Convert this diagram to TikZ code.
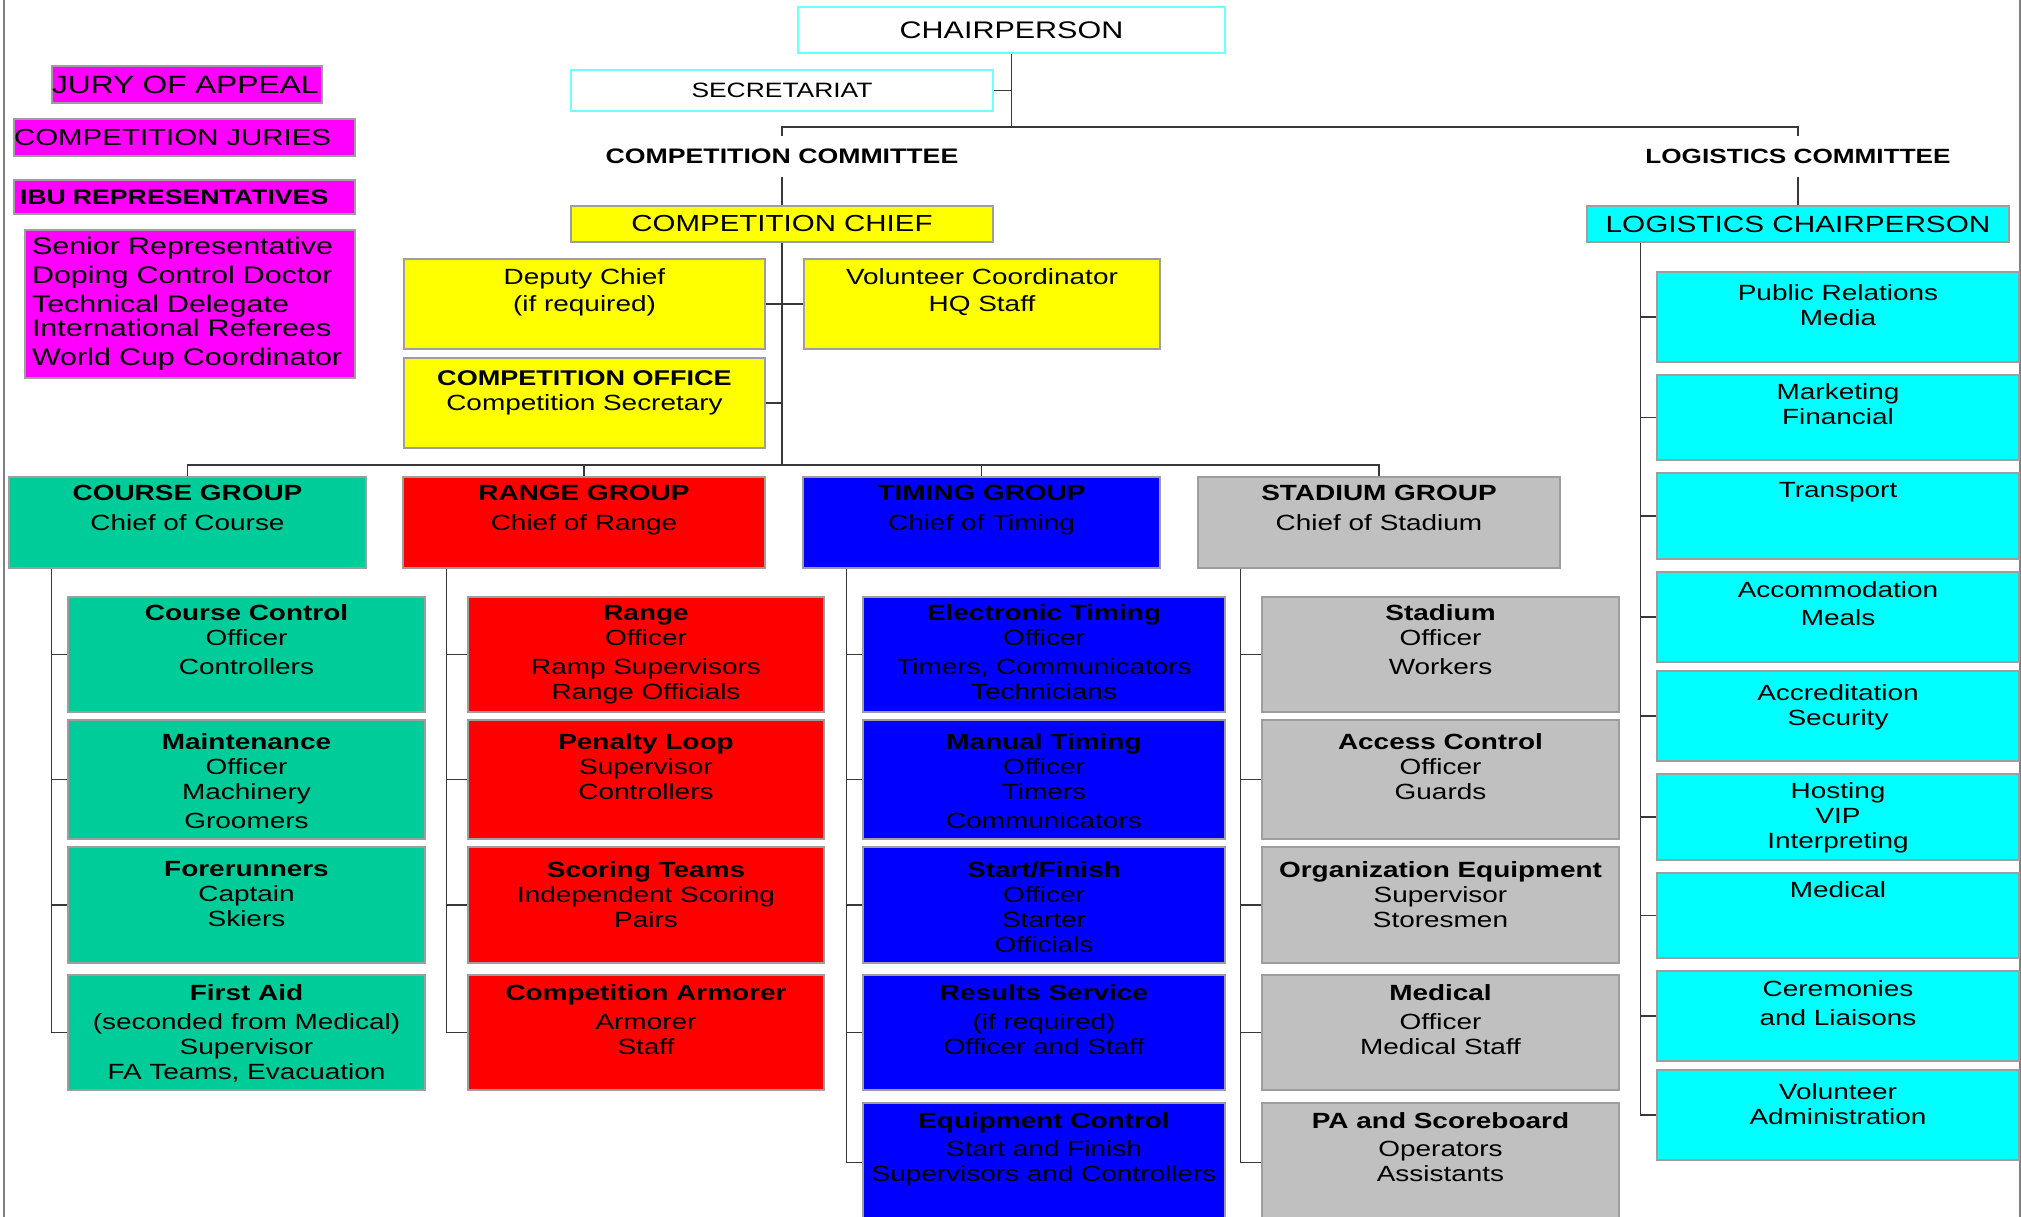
\documentclass[tikz,border=0pt]{standalone}
\usepackage{fontspec}
\setmainfont{Liberation Sans}[FakeStretch=1.27]
\usepackage{xcolor}
\usepackage{tikz}
\usetikzlibrary{positioning}

\definecolor{coursegreen}{RGB}{0,204,153}
\definecolor{rangered}{RGB}{255,0,0}
\definecolor{timingblue}{RGB}{0,0,255}
\definecolor{stadiumgray}{RGB}{192,192,192}
\definecolor{chiefyellow}{RGB}{255,255,0}
\definecolor{logicyan}{RGB}{0,255,255}
\definecolor{jurymagenta}{RGB}{255,0,255}
\definecolor{rimcyan}{RGB}{110,255,255}

\newcommand{\fsz}[1]{\fontsize{#1}{25}\selectfont}

\begin{document}
\begin{tikzpicture}[x=1pt,y=-1pt,
    box/.style={draw=black!38,line width=1.3pt,inner sep=0pt},
    link/.style={draw=black!78,line width=1.3pt},
    pageline/.style={draw=black!50,line width=2pt},
    txt/.style={inner sep=0pt,align=center,font=\fsz{22}},
    grp/.style={box,minimum height=91pt},
    crs/.style={box,fill=coursegreen,minimum width=357pt},
    rng/.style={box,fill=rangered,minimum width=356pt},
    tim/.style={box,fill=timingblue,minimum width=362pt},
    std/.style={box,fill=stadiumgray,minimum width=357pt},
    logi/.style={box,fill=logicyan,minimum width=362pt},
    yel/.style={box,fill=chiefyellow,minimum height=90pt},
    r1/.style={minimum height=115pt},
    r2/.style={minimum height=119pt},
    r3/.style={minimum height=116pt},
    r4/.style={minimum height=115pt},
    r5/.style={minimum height=119pt}]

    \fill[white] (0,0) rectangle (2021,1217);
    \useasboundingbox (0,0) rectangle (2021,1217);
    \draw[pageline] (4,0) -- (4,1217);
    \draw[pageline] (2020,0) -- (2020,1217);

    \node[box,fill=jurymagenta,minimum height=37pt,text width=270pt,align=left,font=\fsz{25}] (jury) at (187,84.5) {JURY OF APPEAL};
    \node[box,fill=jurymagenta,minimum height=37pt,text width=341pt,align=left,font=\fsz{23.2}] (juries) at (184.5,137.5) {COMPETITION JURIES};
    \node[box,fill=jurymagenta,minimum height=34pt,inner xsep=6pt,text width=329pt,align=left,font=\bfseries\fsz{21}] (ibu) at (184.5,197) {IBU REPRESENTATIVES};
    \node[box,fill=jurymagenta,minimum height=148pt,inner xsep=7pt,text width=316pt,align=left,font={\fontsize{24}{29}\selectfont}] (ibulist) at (190,304)
        {Senior Representative\\Doping Control Doctor\\Technical Delegate\\[-5pt]International Referees\\World Cup Coordinator};

    \node[box,draw=rimcyan,fill=white,minimum width=427pt,minimum height=46pt,font=\fsz{24}] (chair) at (1011.5,30) {CHAIRPERSON};
    \node[box,draw=rimcyan,fill=white,minimum width=422pt,minimum height=41pt,font=\fsz{20.8}] (sec) at (782,90.5) {SECRETARIAT};
    \coordinate (split) at (1011.5,127);

    \node[inner sep=0pt,minimum height=40pt,font=\bfseries\fsz{21}] (compcom) at (782,156.5) {COMPETITION COMMITTEE};
    \node[inner sep=0pt,minimum height=40pt,font=\bfseries\fsz{20.6}] (logcom) at (1798,156.5) {LOGISTICS COMMITTEE};

    \node[box,fill=chiefyellow,minimum width=422pt,minimum height=36pt,font=\fsz{23.2}] (cchief) at (782,224) {COMPETITION CHIEF};
    \node[box,fill=logicyan,minimum width=422pt,minimum height=36pt,font=\fsz{23.4}] (lchair) at (1798,224) {LOGISTICS CHAIRPERSON};

    \node[yel,minimum width=361pt] (deputy) at (584.5,304) {};
    \node[yel,minimum width=356pt] (volunteer) at (982,304) {};
    \node[yel,minimum width=361pt] (office) at (584.5,403) {};
    \node[txt,below=10pt of deputy.north] (deputy-t) {Deputy Chief\\[2pt](if required)};
    \node[txt,below=10pt of volunteer.north] (volunteer-t) {Volunteer Coordinator\\[2pt]HQ Staff};
    \node[txt,below=13pt of office.north] (office-t) {{\bfseries\fsz{21.3}COMPETITION OFFICE}\\Competition Secretary};

    \coordinate (gbus) at (782,465);
    \node[grp,fill=coursegreen,minimum width=357pt] (course) at (187.5,522.5) {};
    \node[grp,fill=rangered,minimum width=362pt] (range) at (584,522.5) {};
    \node[grp,fill=timingblue,minimum width=357pt] (timing) at (981.5,522.5) {};
    \node[grp,fill=stadiumgray,minimum width=362pt] (stadium) at (1379,522.5) {};
    \node[txt,below=9pt of course.north] (course-t) {\textbf{COURSE GROUP}\\[5pt]Chief of Course};
    \node[txt,below=9pt of range.north] (range-t) {\textbf{RANGE GROUP}\\[5pt]Chief of Range};
    \node[txt,below=9pt of timing.north] (timing-t) {\textbf{TIMING GROUP}\\[5pt]Chief of Timing};
    \node[txt,below=9pt of stadium.north] (stadium-t) {\textbf{STADIUM GROUP}\\[5pt]Chief of Stadium};

    \node[crs,r1] (crsctl) at (246.5,654.5) {};
    \node[crs,r2] (crsmaint) at (246.5,779.5) {};
    \node[crs,r3] (crsfore) at (246.5,905) {};
    \node[crs,r4] (crsaid) at (246.5,1032.5) {};
    \node[txt,below=8.5pt of crsctl.north] (crsctl-t) {\textbf{Course Control}\\Officer\\[4pt]Controllers};
    \node[txt,below=14pt of crsmaint.north] (crsmaint-t) {\textbf{Maintenance}\\Officer\\Machinery\\[4pt]Groomers};
    \node[txt,below=15pt of crsfore.north] (crsfore-t) {\textbf{Forerunners}\\Captain\\Skiers};
    \node[txt,below=10pt of crsaid.north] (crsaid-t) {\textbf{First Aid}\\[4pt](seconded from Medical)\\Supervisor\\FA Teams, Evacuation};

    \node[rng,r1] (rngrange) at (646,654.5) {};
    \node[rng,r2] (rngloop) at (646,779.5) {};
    \node[rng,r3] (rngscore) at (646,905) {};
    \node[rng,r4] (rngarm) at (646,1032.5) {};
    \node[txt,below=8.5pt of rngrange.north] (rngrange-t) {\textbf{Range}\\Officer\\[4pt]Ramp Supervisors\\Range Officials};
    \node[txt,below=14pt of rngloop.north] (rngloop-t) {\textbf{Penalty Loop}\\Supervisor\\Controllers};
    \node[txt,below=15pt of rngscore.north] (rngscore-t) {\textbf{Scoring Teams}\\Independent Scoring\\Pairs};
    \node[txt,below=10pt of rngarm.north] (rngarm-t) {\textbf{Competition Armorer}\\[4pt]Armorer\\Staff};

    \node[tim,r1] (timelec) at (1044,654.5) {};
    \node[tim,r2] (timman) at (1044,779.5) {};
    \node[tim,r3] (timstart) at (1044,905) {};
    \node[tim,r4] (timres) at (1044,1032.5) {};
    \node[tim,r5] (timequip) at (1044,1162.5) {};
    \node[txt,below=8.5pt of timelec.north] (timelec-t) {\textbf{Electronic Timing}\\Officer\\[4pt]Timers, Communicators\\Technicians};
    \node[txt,below=14pt of timman.north] (timman-t) {\textbf{Manual Timing}\\Officer\\Timers\\[4pt]Communicators};
    \node[txt,below=15pt of timstart.north] (timstart-t) {\textbf{Start/Finish}\\Officer\\Starter\\Officials};
    \node[txt,below=10pt of timres.north] (timres-t) {\textbf{Results Service}\\[4pt](if required)\\Officer and Staff};
    \node[txt,below=10pt of timequip.north] (timequip-t) {\textbf{Equipment Control}\\[3pt]Start and Finish\\Supervisors and Controllers};

    \node[std,r1] (stdstad) at (1440.5,654.5) {};
    \node[std,r2] (stdaccess) at (1440.5,779.5) {};
    \node[std,r3] (stdorg) at (1440.5,905) {};
    \node[std,r4] (stdmed) at (1440.5,1032.5) {};
    \node[std,r5] (stdpa) at (1440.5,1162.5) {};
    \node[txt,below=8.5pt of stdstad.north] (stdstad-t) {\textbf{Stadium}\\Officer\\[4pt]Workers};
    \node[txt,below=14pt of stdaccess.north] (stdaccess-t) {\textbf{Access Control}\\Officer\\Guards};
    \node[txt,below=15pt of stdorg.north] (stdorg-t) {\textbf{Organization Equipment}\\Supervisor\\Storesmen};
    \node[txt,below=10pt of stdmed.north] (stdmed-t) {\textbf{Medical}\\[4pt]Officer\\Medical Staff};
    \node[txt,below=10pt of stdpa.north] (stdpa-t) {\textbf{PA and Scoreboard}\\[3pt]Operators\\Assistants};

    \node[logi,minimum height=90pt] (logpr) at (1838,317) {};
    \node[logi,minimum height=85pt] (logmkt) at (1838,417.5) {};
    \node[logi,minimum height=86pt] (logtrans) at (1838,516) {};
    \node[logi,minimum height=90pt] (logacc) at (1838,617) {};
    \node[logi,minimum height=90pt] (logaccr) at (1838,716) {};
    \node[logi,minimum height=86pt] (loghost) at (1838,817) {};
    \node[logi,minimum height=85pt] (logmed) at (1838,915.5) {};
    \node[logi,minimum height=90pt] (logcer) at (1838,1016) {};
    \node[logi,minimum height=90pt] (logvol) at (1838,1115) {};
    \node[txt,below=13pt of logpr.north] (logpr-t) {Public Relations\\Media};
    \node[txt,below=9.5pt of logmkt.north] (logmkt-t) {Marketing\\Financial};
    \node[txt,below=10pt of logtrans.north] (logtrans-t) {Transport};
    \node[txt,below=10pt of logacc.north] (logacc-t) {Accommodation\\[3pt]Meals};
    \node[txt,below=14pt of logaccr.north] (logaccr-t) {Accreditation\\Security};
    \node[txt,below=9pt of loghost.north] (loghost-t) {Hosting\\VIP\\Interpreting};
    \node[txt,below=9pt of logmed.north] (logmed-t) {Medical};
    \node[txt,below=10pt of logcer.north] (logcer-t) {Ceremonies\\[4pt]and Liaisons};
    \node[txt,below=14pt of logvol.north] (logvol-t) {Volunteer\\Administration};

    \draw[link] (chair.south) -- (split);
    \draw[link] (sec.east) -- (sec.east -| split);
    \draw[link] (compcom.north) |- (split) -| (logcom.north);
    \draw[link] (compcom.south) -- (cchief.north);
    \draw[link] (logcom.south) -- (lchair.north);
    \draw[link] (cchief.south) -- (gbus);
    \draw[link] (deputy.east) -- (volunteer.west);
    \draw[link] (office.east) -- (office.east -| gbus);
    \draw[link] (course.north) |- (gbus) -| (stadium.north);
    \draw[link] (range.north) -- (range.north |- gbus);
    \draw[link] (timing.north) -- (timing.north |- gbus);

    \path (course.south west) ++(43,0) coordinate (crsroot);
    \path (range.south west) ++(44,0) coordinate (rngroot);
    \path (timing.south west) ++(44,0) coordinate (timroot);
    \path (stadium.south west) ++(43,0) coordinate (stdroot);
    \path (lchair.south west) ++(54,0) coordinate (logroot);
    \draw[link] (crsroot) |- (crsctl.west) (crsroot) |- (crsmaint.west)
        (crsroot) |- (crsfore.west) (crsroot) |- (crsaid.west);
    \draw[link] (rngroot) |- (rngrange.west) (rngroot) |- (rngloop.west)
        (rngroot) |- (rngscore.west) (rngroot) |- (rngarm.west);
    \draw[link] (timroot) |- (timelec.west) (timroot) |- (timman.west)
        (timroot) |- (timstart.west) (timroot) |- (timres.west) (timroot) |- (timequip.west);
    \draw[link] (stdroot) |- (stdstad.west) (stdroot) |- (stdaccess.west)
        (stdroot) |- (stdorg.west) (stdroot) |- (stdmed.west) (stdroot) |- (stdpa.west);
    \draw[link] (logroot) |- (logpr.west) (logroot) |- (logmkt.west) (logroot) |- (logtrans.west)
        (logroot) |- (logacc.west) (logroot) |- (logaccr.west) (logroot) |- (loghost.west)
        (logroot) |- (logmed.west) (logroot) |- (logcer.west) (logroot) |- (logvol.west);
\end{tikzpicture}
\end{document}
